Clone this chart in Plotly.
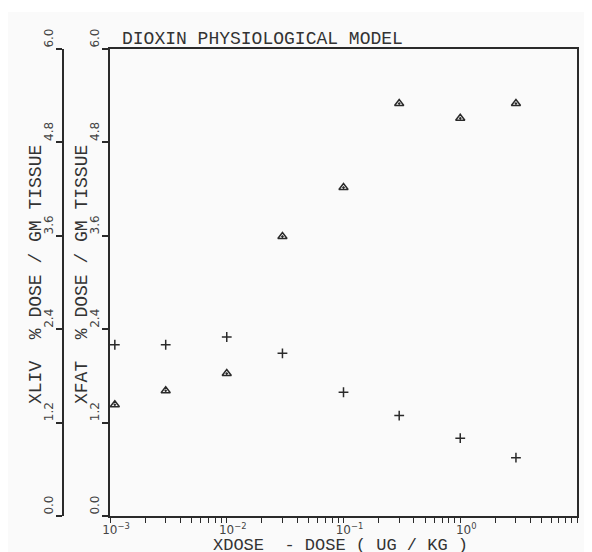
import plotly.graph_objects as go

# ---- data ----
dose = [0.0011, 0.003, 0.01, 0.03, 0.1, 0.3, 1.0, 3.0]
xliv = [1.43, 1.61, 1.83, 3.59, 4.22, 5.30, 5.11, 5.30]
xfat = [2.20, 2.20, 2.30, 2.09, 1.59, 1.29, 1.00, 0.75]
y_ticks = [0.0, 1.2, 2.4, 3.6, 4.8, 6.0]
y_tick_text = ["0.0", "1.2", "2.4", "3.6", "4.8", "6.0"]
x_ticks = [0.001, 0.01, 0.1, 1, 10]
x_tick_text = ["10<sup>\u22123</sup>", "10<sup>\u22122</sup>", "10<sup>\u22121</sup>",
               "10<sup>0</sup>", "10<sup>1</sup>"]

FONT = "Liberation Mono"
INK = "#2a2a2a"

# page body has an 8px margin: screen = paper + 8
OFF = 8
W, H = 592 - OFF, 552 - OFF
# plot area in screen pixels
SX0, SX1, SY0, SY1 = 63, 577, 49, 516
L, R, T, B = SX0 - OFF, W - (SX1 - OFF), SY0 - OFF, H - (SY1 - OFF)
PW = SX1 - SX0
PH = SY1 - SY0


def px_x(s):
    return (s - SX0) / PW


def px_y(s):
    return (SY1 - s) / PH


fig = go.Figure()
fig.add_trace(go.Scatter(
    x=dose, y=xliv, mode="markers", name="XLIV", yaxis="y2",
    marker=dict(symbol="triangle-up-open-dot", size=8, color=INK,
                line=dict(width=1.5, color=INK)),
))
fig.add_trace(go.Scatter(
    x=dose, y=xfat, mode="markers", name="XFAT", yaxis="y",
    marker=dict(symbol="cross-thin-open", size=7, color=INK,
                line=dict(width=1.5, color=INK)),
))

yax_common = dict(
    range=[0, 6], tickvals=y_ticks, ticktext=y_tick_text, tickangle=-90,
    ticks="outside", ticklen=6, tickwidth=1.5, tickcolor=INK,
    showline=True, linewidth=2, linecolor=INK, showgrid=False, zeroline=False,
    tickfont=dict(family="DejaVu Sans", size=12, color="#444"),
    ticklabelposition="outside top", ticklabelstandoff=4, automargin=False,
)

fig.update_layout(
    width=W, height=H,
    margin=dict(l=L, r=R, t=T, b=B),
    paper_bgcolor="white",
    plot_bgcolor="rgba(0,0,0,0)",
    showlegend=False,
    title=dict(text="DIOXIN PHYSIOLOGICAL MODEL", xref="paper", x=px_x(122),
               xanchor="left", yref="container", y=1 - (38 - OFF) / H, yanchor="middle",
               font=dict(family=FONT, size=18, color="#333"), automargin=False),
    xaxis=dict(
        type="log", range=[-3, 1], tickvals=x_ticks, ticktext=x_tick_text,
        domain=[px_x(110), 1],
        ticks="outside", ticklen=5, tickwidth=1.2, tickcolor=INK,
        minor=dict(ticks="outside", ticklen=5, tickwidth=1.2, tickcolor=INK, dtick="D1", showgrid=False),
        showline=True, linewidth=2, linecolor=INK, mirror=True,
        showgrid=False, zeroline=False, automargin=False,
        tickfont=dict(family="DejaVu Sans", size=12, color="#444"),
        ticklabelshift=6, ticklabelstandoff=-3,
    ),
    yaxis=dict(anchor="x", mirror=True, **yax_common),
    yaxis2=dict(overlaying="y", anchor="free", position=0, side="left", **yax_common),
    shapes=[dict(type="rect", xref="paper", yref="paper", x0=px_x(8), x1=px_x(600),
                 y0=px_y(560), y1=px_y(12), fillcolor="#fafafa", line=dict(width=0),
                 layer="below")],
    annotations=[
        dict(text="XLIV  % DOSE / GM TISSUE", xref="paper", yref="paper",
             x=px_x(36), y=px_y(275), textangle=-90, showarrow=False,
             xanchor="center", yanchor="middle",
             font=dict(family=FONT, size=18, color="#333")),
        dict(text="XFAT  % DOSE / GM TISSUE", xref="paper", yref="paper",
             x=px_x(82), y=px_y(275), textangle=-90, showarrow=False,
             xanchor="center", yanchor="middle",
             font=dict(family=FONT, size=18, color="#333")),
        dict(text="XDOSE  - DOSE ( UG / KG )", xref="paper", yref="paper",
             x=px_x(340), y=px_y(545), showarrow=False,
             xanchor="center", yanchor="middle",
             font=dict(family=FONT, size=17, color="#333")),
    ],
)

fig.write_html("out.html")
